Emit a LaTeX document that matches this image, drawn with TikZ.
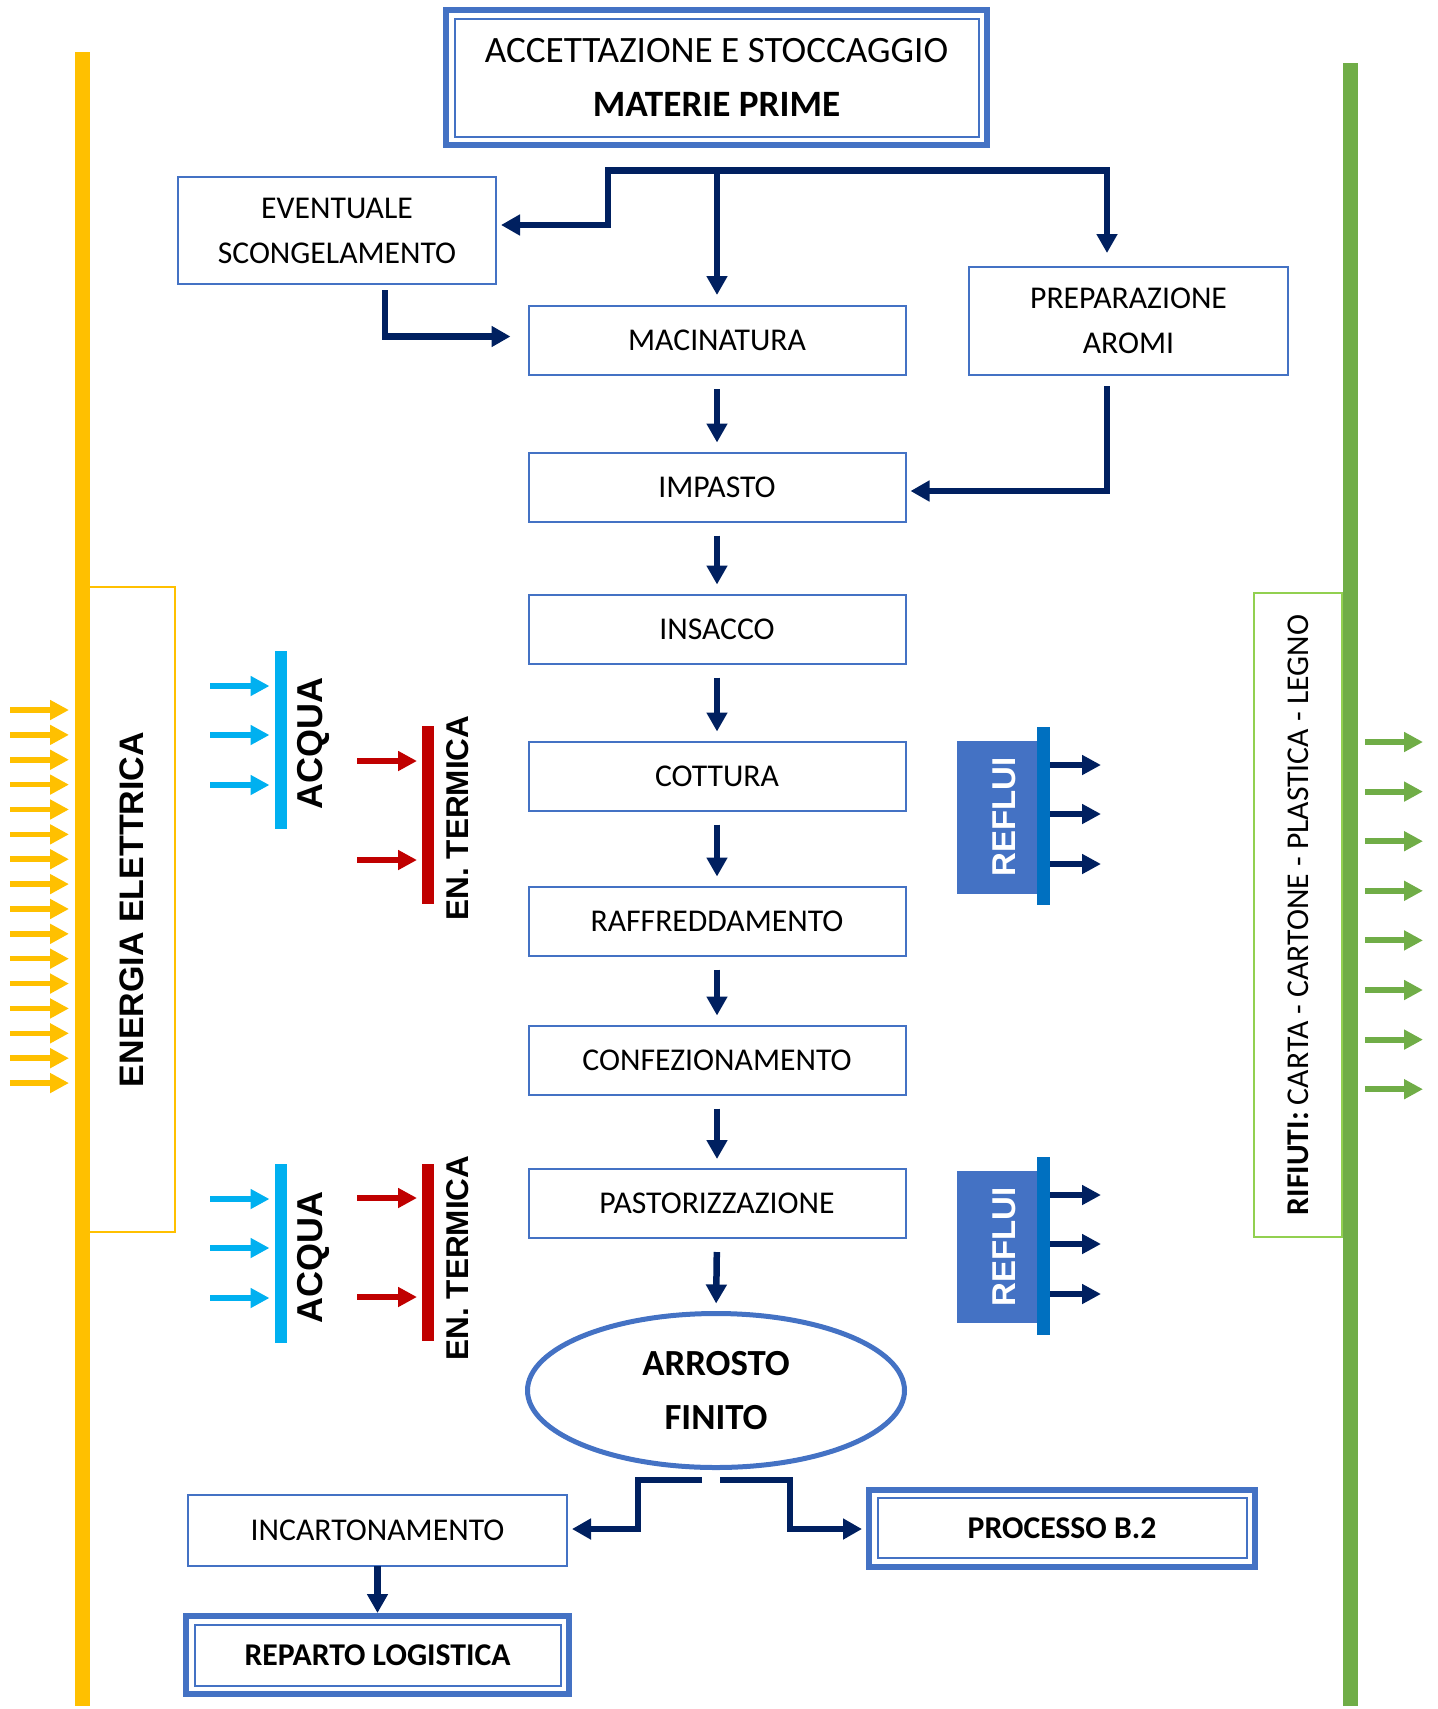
\documentclass[tikz,border=0pt]{standalone}
\usepackage{fontspec}
\setmainfont{Carlito}
\newfontfamily\sidefont{Liberation Sans}
\usetikzlibrary{arrows.meta,shapes.geometric,calc}

\definecolor{boxblue}{HTML}{4472C4}
\definecolor{navy}{HTML}{002060}
\definecolor{elecyellow}{HTML}{FFC000}
\definecolor{waterblue}{HTML}{00B0F0}
\definecolor{heatred}{HTML}{C00000}
\definecolor{drainblue}{HTML}{0070C0}
\definecolor{wastegreen}{HTML}{70AD47}
\definecolor{lightgreen}{HTML}{92D050}

\tikzstyle{phase} = [draw=boxblue, line width=2pt, outer sep=0pt, inner sep=0pt, minimum width=377pt, minimum height=69pt, align=center, font=\fontsize{31.7}{45}\selectfont]
\tikzstyle{main phase} = [phase, line width=6pt, font=\bfseries\fontsize{31.7}{45}\selectfont]
\tikzstyle{inner frame} = [draw=boxblue, line width=2pt]
\tikzstyle{flow} = [draw=navy, line width=6.5pt, -{Triangle[width=20pt,length=19pt]}]
\tikzstyle{feed} = [line width=6pt, -{Triangle[width=19pt,length=19pt]}]
\tikzstyle{bar} = [inner sep=0pt, outer sep=0pt, minimum width=12pt]
\tikzstyle{side label} = [rotate=90, inner sep=0pt, font=\sidefont\bfseries\fontsize{31.5}{36}\selectfont]

\def\phases{{(717,340.5)/mac/MACINATURA}, {(717,487)/imp/IMPASTO}, {(717,629)/ins/INSACCO}, {(717,776)/cot/COTTURA}, {(717,921)/raf/RAFFREDDAMENTO}, {(717,1060)/con/CONFEZIONAMENTO}, {(717,1203.5)/pas/PASTORIZZAZIONE}}
\def\chain{mac/imp, imp/ins, ins/cot, cot/raf, raf/con, con/pas, pas/arr}
\def\waterIn{{1/686}, {1/735}, {1/785}, {2/1199}, {2/1248}, {2/1298}}
\def\heatIn{{1/761}, {1/860}, {2/1198}, {2/1297}}
\def\drainOut{{1/765}, {1/814}, {1/864}, {2/1195}, {2/1244}, {2/1294}}

\begin{document}
\begin{tikzpicture}[x=1pt, y=-1pt]
  \useasboundingbox (0,0) rectangle (1438,1709);

  % main flow
  \node[main phase, minimum width=541pt, minimum height=135pt, font=\fontsize{37.2}{54}\selectfont] (acc) at (716.5,77.5) {ACCETTAZIONE E STOCCAGGIO\\\textbf{MATERIE PRIME}};
  \node[phase, minimum width=318pt, minimum height=107pt] (sce) at (337,230.5) {EVENTUALE\\SCONGELAMENTO};
  \node[phase, minimum width=319pt, minimum height=108pt] (aro) at (1128.5,321) {PREPARAZIONE\\AROMI};

  \foreach \pos/\name/\label in \phases {
    \node[phase] (\name) at \pos {\label};
    }

  \node[ellipse, draw=boxblue, line width=5pt, outer sep=0pt, inner sep=0pt, minimum width=377pt, minimum height=154pt, align=center, font=\bfseries\fontsize{36.8}{54}\selectfont] (arr) at (716,1390.5) {ARROSTO\\FINITO};

  \node[phase, minimum width=379pt, minimum height=71pt] (inc) at (377.5,1530.5) {INCARTONAMENTO};
  \node[main phase, minimum width=386pt, minimum height=77pt] (proc) at (1062,1528) {PROCESSO B.2};
  \node[main phase, minimum width=383pt, minimum height=78pt] (rep) at (377.5,1655) {REPARTO LOGISTICA};

  \foreach \name in {acc,proc,rep}
    \draw[inner frame] ($(\name.north west)+(8.5,8.5)$) rectangle ($(\name.south east)-(8.5,8.5)$);

  % connectors
  \coordinate (forkTop) at (717,170.5);
  \coordinate (forkLeft) at (608,225);
  \coordinate (scBend) at (385,336.5);
  \coordinate (aroBend) at (1107,491);
  \coordinate (splitL) at (702,1480);
  \coordinate (splitR) at (720,1480);
  \coordinate (bendL) at (638,1529);
  \coordinate (bendR) at (790,1529);

  \draw[flow, shorten >=11pt] (forkTop) -- (mac.north);
  \draw[flow, shorten >=5pt] (forkTop) -| (forkLeft) -- (sce.east |- forkLeft);
  \draw[flow, shorten >=14pt] (forkTop) -| ([xshift=-21.5pt]aro.north);
  \draw[flow, shorten <=6pt, shorten >=18pt] (sce.south -| scBend) |- (mac.west |- scBend);
  \draw[flow, shorten <=11pt, shorten >=5pt] (aro.south -| aroBend) |- (imp.east |- aroBend);

  \foreach \source/\dest in \chain
    \draw[flow, shorten <=14pt, shorten >=10pt] (\source.south) -- (\dest.north);

  \draw[flow, shorten >=5pt] (splitL) -| (bendL) -- (inc.east |- bendL);
  \draw[flow, shorten >=7pt] (splitR) -| (bendR) -- (proc.west |- bendR);
  \draw[flow, shorten >=3pt] (inc.south) -- (rep.north);

  % energia elettrica
  \node[bar, fill=elecyellow, minimum width=15pt, minimum height=1654pt] (ebar) at (82.5,879) {};
  \node[draw=elecyellow, line width=2pt, rotate=90, outer sep=0pt, inner sep=0pt, minimum width=645pt, minimum height=86pt, font=\sidefont\bfseries\fontsize{34}{40}\selectfont] (elec) at (132,909.5) {ENERGIA ELETTRICA};
  \foreach \i [evaluate=\i as \y using 710+24.87*\i] in {0,...,15} {
    \coordinate (e\i) at (10,\y);
    \draw[feed, elecyellow, line width=5.5pt, shorten >=6pt] (e\i) -- (ebar.west |- e\i);
    }

  % acqua / en. termica
  \node[bar, fill=waterblue, minimum height=178pt] (wbar1) at (280.5,740) {};
  \node[bar, fill=waterblue, minimum height=179pt] (wbar2) at (280.5,1253.5) {};
  \node[bar, fill=heatred, minimum height=178pt] (hbar1) at (427.5,815) {};
  \node[bar, fill=heatred, minimum height=177pt] (hbar2) at (427.5,1252.5) {};

  \foreach \k/\y in \waterIn {
    \coordinate (w\k-\y) at (210,\y);
    \draw[feed, waterblue, shorten >=5pt] (w\k-\y) -- (wbar\k.west |- w\k-\y);
    }
  \foreach \k/\y in \heatIn {
    \coordinate (h\k-\y) at (357,\y);
    \draw[feed, heatred, shorten >=4.5pt] (h\k-\y) -- (hbar\k.west |- h\k-\y);
    }

  \node[side label, font=\sidefont\bfseries\fontsize{36}{40}\selectfont] (wlab1) at (313,743) {ACQUA};
  \node[side label, font=\sidefont\bfseries\fontsize{36}{40}\selectfont] (wlab2) at (313,1257) {ACQUA};
  \node[side label] (hlab1) at (458,818) {EN. TERMICA};
  \node[side label] (hlab2) at (458,1258) {EN. TERMICA};

  % reflui
  \node[fill=boxblue, outer sep=0pt, inner sep=0pt, minimum width=81pt, minimum height=153pt] (drain1) at (997.5,817.5) {};
  \node[fill=boxblue, outer sep=0pt, inner sep=0pt, minimum width=81pt, minimum height=152pt] (drain2) at (997.5,1247) {};
  \node[side label, text=white, font=\sidefont\bfseries\fontsize{33}{36}\selectfont] (dlab1) at (1004,817) {REFLUI};
  \node[side label, text=white, font=\sidefont\bfseries\fontsize{33}{36}\selectfont] (dlab2) at (1004,1247) {REFLUI};
  \node[bar, fill=drainblue, minimum width=13pt, minimum height=178pt] (dbar1) at (1043.5,816) {};
  \node[bar, fill=drainblue, minimum width=13pt, minimum height=178pt] (dbar2) at (1043.5,1246) {};
  \foreach \k/\y in \drainOut {
    \coordinate (d\k-\y) at (1101,\y);
    \draw[feed, navy] (dbar\k.east |- d\k-\y) -- (d\k-\y);
    }

  % rifiuti
  \node[bar, fill=wastegreen, minimum width=15pt, minimum height=1643pt] (gbar) at (1350.5,884.5) {};
  \node[draw=lightgreen, line width=2pt, rotate=90, outer sep=0pt, inner sep=0pt, minimum width=644pt, minimum height=88pt, font=\fontsize{31.7}{36}\selectfont] (waste) at (1298,915) {\textbf{RIFIUTI:} CARTA - CARTONE - PLASTICA - LEGNO};
  \foreach \i [evaluate=\i as \y using 742+49.6*\i] in {0,...,7} {
    \coordinate (g\i) at (1423,\y);
    \draw[feed, wastegreen, shorten <=7pt] (gbar.east |- g\i) -- (g\i);
    }

\end{tikzpicture}
\end{document}
